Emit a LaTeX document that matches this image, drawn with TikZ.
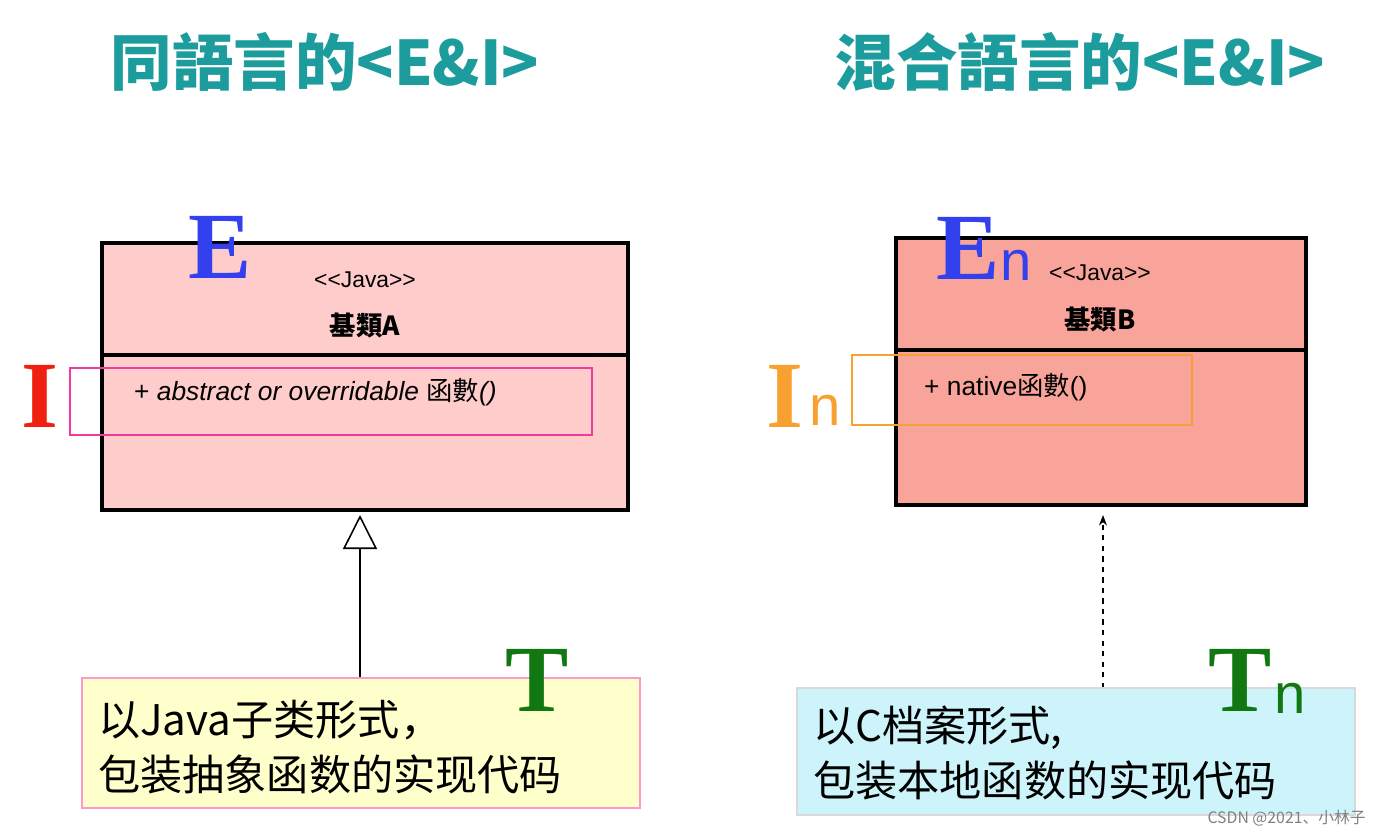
\documentclass[tikz,border=0pt]{standalone}
\usepackage{fontspec}
\setmainfont{Liberation Sans}
\newfontfamily\cjk{Noto Sans CJK SC}
\newfontfamily\bigserif{Liberation Serif}
\usetikzlibrary{positioning,arrows.meta}
\definecolor{teal1}{HTML}{1C9C9C}
\definecolor{pinkA}{HTML}{FFCCCC}
\definecolor{salmonB}{HTML}{F8A49A}
\definecolor{noteY}{HTML}{FFFFCC}
\definecolor{noteC}{HTML}{CCF4FA}
\definecolor{bigE}{HTML}{3340EE}
\definecolor{bigI}{HTML}{F02010}
\definecolor{bigIn}{HTML}{F8A030}
\definecolor{bigT}{HTML}{117711}
\begin{document}
\begin{tikzpicture}
   [x=0.02cm,y=-0.02cm,
    title/.style={text=teal1,font=\cjk\bfseries\fontsize{35}{37}\selectfont},
    cls/.style={draw=black,line width=2pt},
    note/.style={font=\cjk\fontsize{24}{31}\selectfont,align=left,anchor=north west},
    letter/.style={font=\bigserif\bfseries\fontsize{54}{54}\selectfont,inner sep=0pt},
    sub/.style={font=\fontsize{32}{32}\selectfont,inner sep=0pt},
    hook/.style={line width=0.8pt}]
\useasboundingbox (0,0) rectangle (1376,835);

\node [title] (t1) at (325,62) {同語言的<E\&I>};
\node [title] (t2) at (1080,62) {混合語言的<E\&I>};

% left class
\draw [cls,fill=pinkA] (102,243) rectangle (628,510);
\draw [cls] (102,355) -- (628,355);
\node (javaA) at (365,280) {\fontsize{13}{13}\selectfont <{}<Java>{}>};
\node (nameA) at (365,326) {\cjk\bfseries\fontsize{15}{15}\selectfont 基類A};
\node [anchor=west] (opA) at (128,392) {\fontsize{15}{15}\selectfont + \itshape abstract or overridable {\cjk 函數}()};
\draw [hook,draw=magenta!70!pink] (70,368) rectangle (592,435);
\node [letter,text=bigE] (E1) at (220,247) {E};
\node [letter,text=bigI] (I1) at (40,396) {I};

\coordinate (topA) at (360,515);
\draw [line width=0.9pt,-{Triangle[open,length=34*0.02cm,width=34*0.02cm]}] (360,678) -- (topA);

\draw [draw=pink!80!magenta,fill=noteY,line width=0.8pt] (82,678) rectangle (640,808);
\node [note] (noteA) at (92,694) {以Java子类形式，\\包装抽象函数的实现代码};
\node [letter,text=bigT] (T1) at (537,680) {T};

% right class
\draw [cls,fill=salmonB] (896,238) rectangle (1306,505);
\draw [cls] (896,350) -- (1306,350);
\node (javaB) at (1100,273) {\fontsize{13}{13}\selectfont <{}<Java>{}>};
\node (nameB) at (1100,320) {\cjk\bfseries\fontsize{15}{15}\selectfont 基類B};
\node [anchor=west] (opB) at (918,387) {\fontsize{15}{15}\selectfont + native{\cjk 函數}()};
\draw [hook,draw=bigIn] (852,355) rectangle (1192,425);
\node [letter,text=bigE] (E2) at (968,248) {E};
\node [sub,text=bigE] (E2n) at (1016,265) {n};
\node [letter,text=bigIn] (I2) at (785,396) {I};
\node [sub,text=bigIn] (I2n) at (825,410) {n};

\coordinate (topB) at (1103,515);
\draw [line width=0.6pt,dashed,-{Stealth[length=6pt]}] (1103,688) -- (topB);

\draw [draw=gray!30,fill=noteC,line width=0.8pt] (797,688) rectangle (1355,815);
\node [note] (noteB) at (807,700) {以C档案形式,\\包装本地函数的实现代码};
\node [letter,text=bigT] (T2) at (1240,680) {T};
\node [sub,text=bigT] (T2n) at (1290,698) {n};

\node [text=gray,font=\cjk\fontsize{9}{9}\selectfont,anchor=east] (mark) at (1372,818) {CSDN @2021、小林子};
\end{tikzpicture}
\end{document}
